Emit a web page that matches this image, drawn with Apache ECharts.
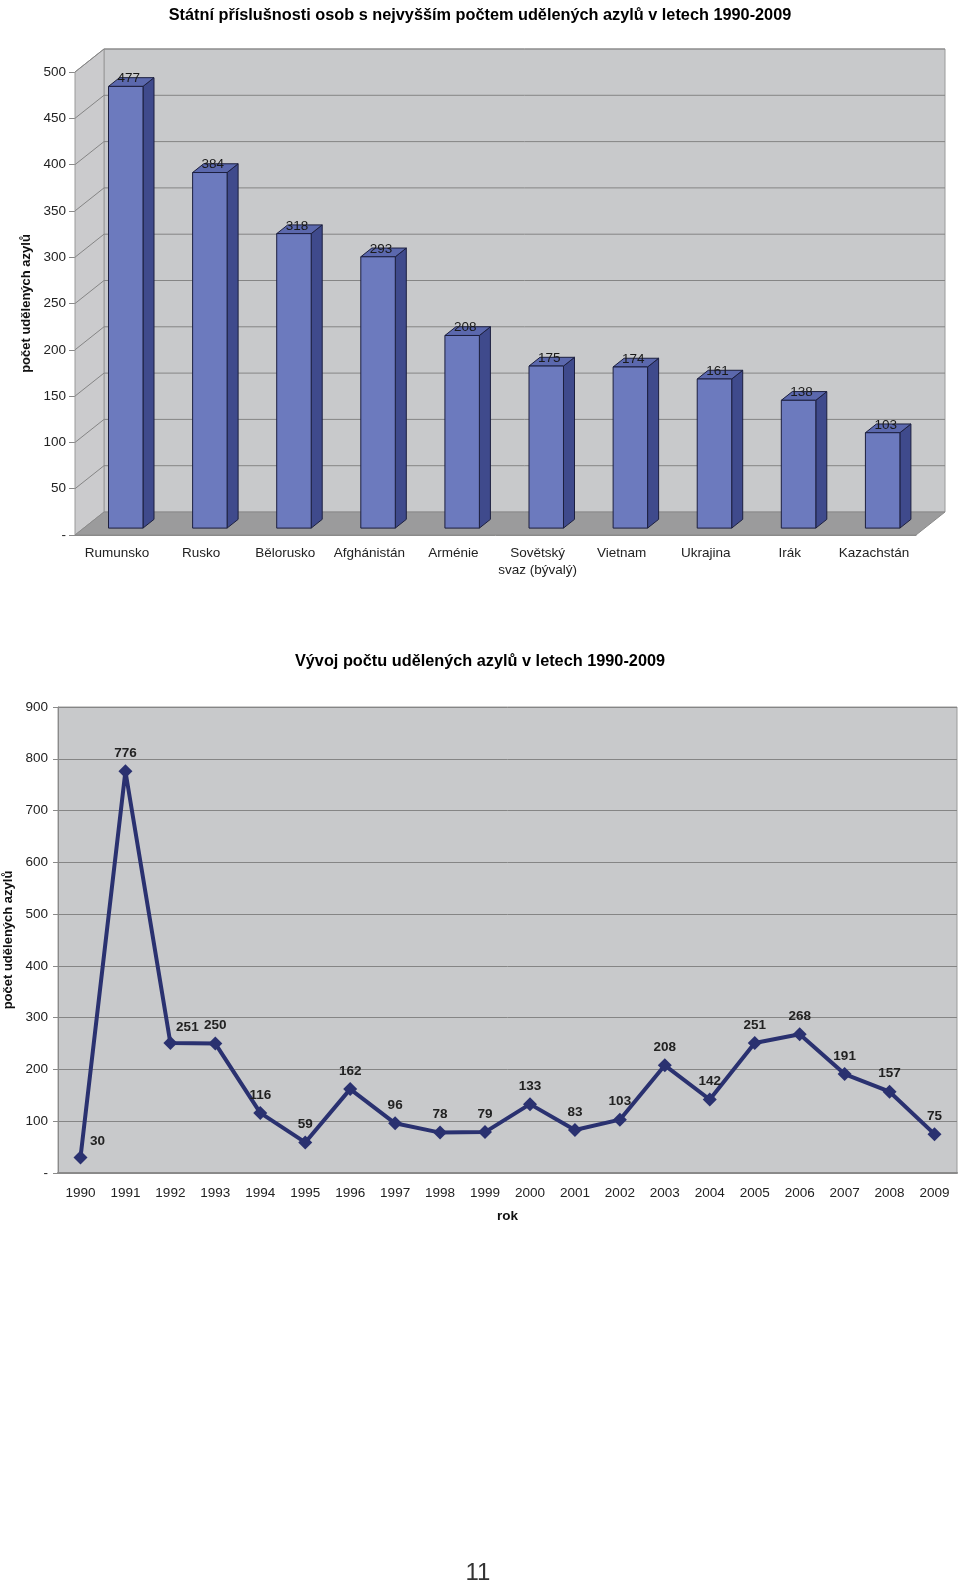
<!DOCTYPE html>
<html>
<head>
<meta charset="utf-8">
<script src="https://cdn.jsdelivr.net/npm/echarts@6/dist/echarts.min.js"></script>
<style>
  html, body { margin: 0; padding: 0; background: #fff; }
  #main { width: 960px; height: 1585px; }
</style>
</head>
<body>
<div id="main"></div>
<script>
// data
const countries = ["Rumunsko", "Rusko", "Bělorusko", "Afghánistán", "Arménie",
  "Sovětský\nsvaz (bývalý)", "Vietnam", "Ukrajina", "Irák", "Kazachstán"];
const asylumByCountry = [477, 384, 318, 293, 208, 175, 174, 161, 138, 103];
const countryTicks = [0, 50, 100, 150, 200, 250, 300, 350, 400, 450, 500];

const years = ["1990", "1991", "1992", "1993", "1994", "1995", "1996", "1997", "1998", "1999",
  "2000", "2001", "2002", "2003", "2004", "2005", "2006", "2007", "2008", "2009"];
const asylumByYear = [30, 776, 251, 250, 116, 59, 162, 96, 78, 79,
  133, 83, 103, 208, 142, 251, 268, 191, 157, 75];

// fake 3d depth of the bar chart
const DX = 29, DY = -23;
const font = "Liberation Sans, Arial, sans-serif";

let chart = echarts.init(document.getElementById("main"));

function dashZero(v) {
  return v === 0 ? "-" : v;
}

// back wall, side wall, floor and their grid lines
function renderWalls(params, api) {
  const cs = params.coordSys;
  const v = api.value(1);
  const y = api.coord([0, v])[1];
  const left = cs.x, right = cs.x + cs.width, bottom = cs.y + cs.height, top = cs.y;
  const children = [];
  if (v === 0) {
    children.push({
      type: "rect", z2: 0,
      shape: { x: left + DX, y: top + DY, width: cs.width, height: cs.height },
      style: { fill: "#c8c9cb", stroke: "#9a9a9a", lineWidth: 1 }
    });
    children.push({
      type: "polygon", z2: 0,
      shape: { points: [[left, top], [left + DX, top + DY], [left + DX, bottom + DY], [left, bottom]] },
      style: { fill: "#cbcbcd", stroke: "#9a9a9a", lineWidth: 1 }
    });
    children.push({
      type: "polygon", z2: 1,
      shape: { points: [[left, bottom], [left + DX, bottom + DY], [right + DX, bottom + DY], [right, bottom]] },
      style: { fill: "#9b9b9c", stroke: "#8a8a8a", lineWidth: 1 }
    });
  } else {
    children.push({
      type: "line", z2: 2,
      shape: { x1: left + DX, y1: y + DY, x2: right + DX, y2: y + DY },
      style: { stroke: "#858585", lineWidth: 1 }
    });
    children.push({
      type: "line", z2: 2,
      shape: { x1: left, y1: y, x2: left + DX, y2: y + DY },
      style: { stroke: "#858585", lineWidth: 1 }
    });
  }
  return { type: "group", children: children };
}

function renderBar(params, api) {
  const i = api.value(0), v = api.value(1);
  const top = api.coord([i, v]);
  const base = api.coord([i, 0]);
  const band = api.size([1, 0])[0];
  const w = band * 0.41;
  const cx = top[0] + DX * 0.3;
  const xl = cx - w / 2, xr = cx + w / 2;
  const yt = top[1] + DY * 0.3, yb = base[1] + DY * 0.3;
  const sx = DX * 0.38, sy = DY * 0.38;
  const edge = { stroke: "#1c1f3f", lineWidth: 1 };
  return {
    type: "group",
    children: [
      {
        type: "polygon",
        shape: { points: [[xr, yt], [xr + sx, yt + sy], [xr + sx, yb + sy], [xr, yb]] },
        style: Object.assign({ fill: "#3f4a8c" }, edge)
      },
      {
        type: "polygon",
        shape: { points: [[xl, yt], [xl + sx, yt + sy], [xr + sx, yt + sy], [xr, yt]] },
        style: Object.assign({ fill: "#5b68ad" }, edge)
      },
      {
        type: "rect",
        shape: { x: xl, y: yt, width: w, height: yb - yt },
        style: Object.assign({ fill: "#6c7abe" }, edge)
      },
      {
        type: "text",
        x: cx + 3, y: yt + sy + 1,
        style: {
          text: String(v), fill: "#1a1a1a", font: "13.5px " + font,
          align: "center", verticalAlign: "middle"
        }
      }
    ]
  };
}

let option = {
  animation: false,
  backgroundColor: "#fff",
  textStyle: { fontFamily: font },
  title: [
    {
      text: "Státní příslušnosti osob s nejvyšším počtem udělených azylů v letech 1990-2009",
      left: "center", top: 3,
      textStyle: { fontSize: 16.3, fontWeight: "bold", color: "#000" }
    },
    {
      text: "Vývoj počtu udělených azylů v letech 1990-2009",
      left: "center", top: 649,
      textStyle: { fontSize: 16.3, fontWeight: "bold", color: "#000" }
    }
  ],
  grid: [
    { left: 75, top: 72, width: 841, height: 463, outerBoundsMode: "none" },
    {
      left: 58, top: 707, width: 899, height: 466, show: true, outerBoundsMode: "none",
      backgroundColor: "#c8c9cb", borderColor: "#9a9a9a", borderWidth: 1
    }
  ],
  xAxis: [
    {
      type: "category", gridIndex: 0, data: countries,
      axisLine: { lineStyle: { color: "#8a8a8a" } },
      axisTick: { length: 6, lineStyle: { color: "#8a8a8a" } },
      axisLabel: { interval: 0, fontSize: 13.5, color: "#222", margin: 10, lineHeight: 17 }
    },
    {
      type: "category", gridIndex: 1, data: years,
      name: "rok", nameLocation: "middle", nameGap: 36,
      nameTextStyle: { fontSize: 13.5, fontWeight: "bold", color: "#111" },
      axisLine: { lineStyle: { color: "#8a8a8a", width: 2 } },
      axisTick: { length: 5, lineStyle: { color: "#8a8a8a" } },
      axisLabel: { interval: 0, fontSize: 13.5, color: "#222", margin: 13 }
    }
  ],
  yAxis: [
    {
      type: "value", gridIndex: 0, min: 0, max: 500, interval: 50,
      name: "počet udělených azylů", nameLocation: "middle", nameGap: 42,
      nameTextStyle: { fontSize: 13, fontWeight: "bold", color: "#111" },
      axisLine: { show: true, lineStyle: { color: "#8a8a8a" } },
      axisTick: { show: true, length: 6, lineStyle: { color: "#8a8a8a" } },
      axisLabel: { fontSize: 13.5, color: "#222", margin: 9, formatter: dashZero },
      splitLine: { show: false }
    },
    {
      type: "value", gridIndex: 1, min: 0, max: 900, interval: 100,
      name: "počet udělených azylů", nameLocation: "middle", nameGap: 35,
      nameTextStyle: { fontSize: 13, fontWeight: "bold", color: "#111" },
      axisLine: { show: true, lineStyle: { color: "#8a8a8a" } },
      axisTick: { show: true, length: 5, lineStyle: { color: "#8a8a8a" } },
      axisLabel: { fontSize: 13.5, color: "#222", margin: 10, formatter: dashZero },
      splitLine: { lineStyle: { color: "#858585", width: 1 } }
    }
  ],
  series: [
    {
      type: "custom", name: "walls", xAxisIndex: 0, yAxisIndex: 0, z: 1,
      renderItem: renderWalls,
      data: countryTicks.map(v => [0, v])
    },
    {
      type: "custom", name: "azyly podle státu", xAxisIndex: 0, yAxisIndex: 0, z: 3,
      renderItem: renderBar,
      encode: { x: 0, y: 1 },
      data: asylumByCountry.map((v, i) => [i, v])
    },
    {
      type: "line", name: "azyly podle roku", xAxisIndex: 1, yAxisIndex: 1,
      symbol: "diamond", symbolSize: 14,
      itemStyle: { color: "#2a3170" },
      lineStyle: { color: "#2a3170", width: 4 },
      label: {
        show: true, position: "top", distance: 4,
        fontSize: 13.5, fontWeight: "bold", color: "#222"
      },
      data: asylumByYear.map((v, i) =>
        (i === 0 || i === 2) ? { value: v, label: { offset: [17, 2] } } : v)
    }
  ],
  graphic: [
    {
      type: "text", x: 478, y: 1573,
      style: { text: "11", font: "24px " + font, fill: "#333", align: "center", verticalAlign: "middle" }
    }
  ]
};

chart.setOption(option);
</script>
</body>
</html>
